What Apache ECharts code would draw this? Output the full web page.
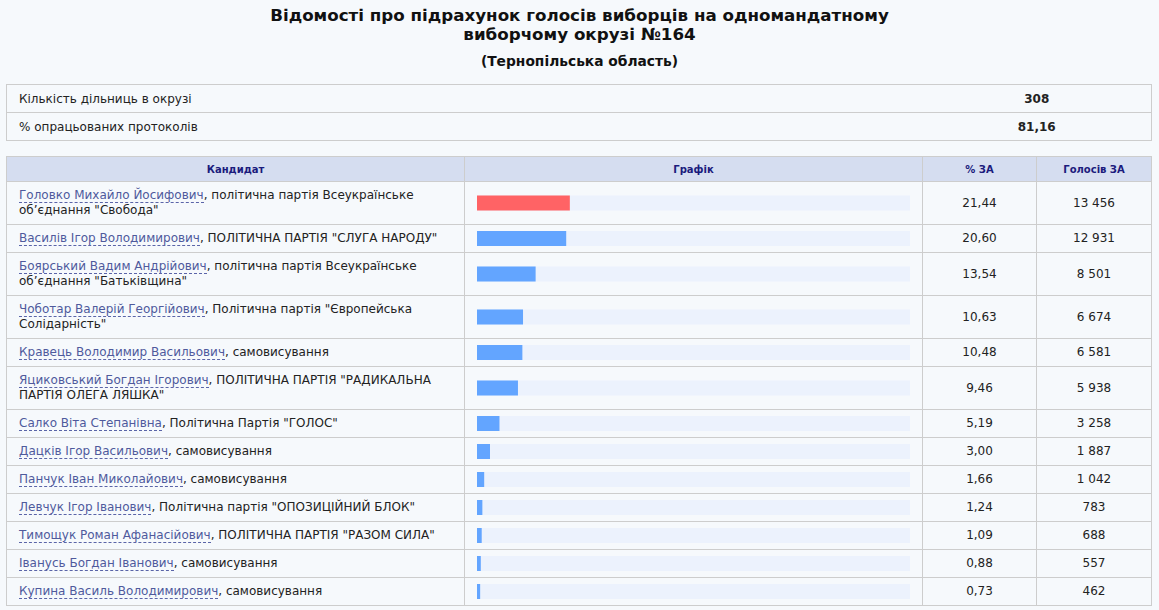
<!DOCTYPE html>
<html lang="uk">
<head>
<meta charset="utf-8">
<script src="https://cdn.jsdelivr.net/npm/echarts@6/dist/echarts.min.js"></script>
<style>
  html,body{margin:0;padding:0;background:#f6f9fc;}
  #wrap{position:relative;width:1159px;height:610px;overflow:hidden;font-family:"DejaVu Sans",Verdana,sans-serif;color:#222;}
  .t1{text-align:center;font-weight:bold;font-size:16.7px;line-height:19px;padding-top:6px;margin:0;color:#111;}
  .t2{text-align:center;font-weight:bold;font-size:13.8px;line-height:18px;margin:8px 0 0 0;color:#111;}
  table{border-collapse:collapse;table-layout:fixed;position:absolute;left:6px;width:1145px;}
  td,th{font-size:12px;}
  #info{top:84px;border:1px solid #cdcdcd;}
  #info td{height:27px;padding:0 12px 0 12px;border-top:1px solid #cdcdcd;border-bottom:1px solid #cdcdcd;}
  #info td.v{text-align:center;font-weight:bold;padding:0;}
  #main{top:156px;border:1px solid #cdcdcd;}
  #main th{background:#d5ddf0;color:#1b1b7d;font-size:10px;font-weight:bold;height:24px;padding:0;border:1px solid #cdcdcd;}
  #main td{border:1px solid #cdcdcd;padding:6px 12px 6px 12px;line-height:15px;vertical-align:middle;}
  #main td.n{text-align:center;padding:0;}
  .nm{color:#4f5a9c;border-bottom:1px dashed #5a64a8;}
  #chart{position:absolute;left:0;top:0;width:1159px;height:610px;pointer-events:none;}
</style>
</head>
<body>
<div id="wrap">
  <div class="t1" id="title"></div>
  <div class="t2" id="subtitle"></div>
  <table id="info"><colgroup><col style="width:916px"><col style="width:229px"></colgroup><tbody id="infoBody"></tbody></table>
  <table id="main">
    <colgroup><col style="width:458px"><col style="width:458px"><col style="width:114px"><col style="width:115px"></colgroup>
    <thead><tr id="headRow"></tr></thead>
    <tbody id="mainBody"></tbody>
  </table>
  <div id="chart"></div>
</div>
<script>
const titleLines = ["Відомості про підрахунок голосів виборців на одномандатному", "виборчому окрузі №164"];
const subtitleText = "(Тернопільська область)";
const infoLabels = ["Кількість дільниць в окрузі", "% опрацьованих протоколів"];
const infoValues = ["308", "81,16"];
const headers = ["Кандидат", "Графік", "% ЗА", "Голосів ЗА"];
const candidates = [
  "Головко Михайло Йосифович",
  "Василів Ігор Володимирович",
  "Боярський Вадим Андрійович",
  "Чоботар Валерій Георгійович",
  "Кравець Володимир Васильович",
  "Яциковський Богдан Ігорович",
  "Салко Віта Степанівна",
  "Дацків Ігор Васильович",
  "Панчук Іван Миколайович",
  "Левчук Ігор Іванович",
  "Тимощук Роман Афанасійович",
  "Іванусь Богдан Іванович",
  "Купина Василь Володимирович"
];
const parties = [
  "політична партія Всеукраїнське об’єднання \"Свобода\"",
  "ПОЛІТИЧНА ПАРТІЯ \"СЛУГА НАРОДУ\"",
  "політична партія Всеукраїнське об’єднання \"Батьківщина\"",
  "Політична партія \"Європейська Солідарність\"",
  "самовисування",
  "ПОЛІТИЧНА ПАРТІЯ \"РАДИКАЛЬНА ПАРТІЯ ОЛЕГА ЛЯШКА\"",
  "Політична Партія \"ГОЛОС\"",
  "самовисування",
  "самовисування",
  "Політична партія \"ОПОЗИЦІЙНИЙ БЛОК\"",
  "ПОЛІТИЧНА ПАРТІЯ \"РАЗОМ СИЛА\"",
  "самовисування",
  "самовисування"
];
const percents = [21.44, 20.60, 13.54, 10.63, 10.48, 9.46, 5.19, 3.00, 1.66, 1.24, 1.09, 0.88, 0.73];
const votes = [13456, 12931, 8501, 6674, 6581, 5938, 3258, 1887, 1042, 783, 688, 557, 462];

const fmtPct = v => v.toFixed(2).replace('.', ',');
const fmtVotes = v => String(v).replace(/\B(?=(\d{3})+(?!\d))/g, ' ');
const esc = s => s.replace(/&/g,'&amp;').replace(/</g,'&lt;').replace(/>/g,'&gt;');

document.getElementById('title').innerHTML = titleLines.map(esc).join('<br>');
document.getElementById('subtitle').textContent = subtitleText;
document.getElementById('infoBody').innerHTML = infoLabels.map((l, i) =>
  `<tr><td>${esc(l)}</td><td class="v">${esc(infoValues[i])}</td></tr>`).join('');
document.getElementById('headRow').innerHTML = headers.map(h => `<th>${esc(h)}</th>`).join('');
document.getElementById('mainBody').innerHTML = candidates.map((c, i) =>
  `<tr><td><span class="nm">${esc(c)}</span>, ${esc(parties[i])}</td><td class="g"></td>` +
  `<td class="n">${fmtPct(percents[i])}</td><td class="n">${fmtVotes(votes[i])}</td></tr>`).join('');

const wrapRect = document.getElementById('wrap').getBoundingClientRect();
const cells = Array.from(document.querySelectorAll('#mainBody td.g'));
const leader = percents.indexOf(Math.max(...percents));
const barH = 15, padX = 12.5;

const grids = [], xAxes = [], yAxes = [], series = [];
cells.forEach((cell, i) => {
  const r = cell.getBoundingClientRect();
  const cy = (r.top + r.bottom) / 2 - wrapRect.top;
  grids.push({ left: r.left - wrapRect.left + padX, width: r.width - 2 * padX, top: cy - barH / 2, height: barH, containLabel: false });
  xAxes.push({ type: 'value', gridIndex: i, min: 0, max: 100, show: false });
  yAxes.push({ type: 'category', gridIndex: i, data: [candidates[i]], show: false });
  series.push({
    type: 'bar', xAxisIndex: i, yAxisIndex: i, name: candidates[i],
    data: [percents[i]], barWidth: '100%',
    showBackground: true, backgroundStyle: { color: '#ecf2fd' },
    itemStyle: { color: i === leader ? '#ff6365' : '#63a5ff' },
    silent: true, animation: false
  });
});

const chart = echarts.init(document.getElementById('chart'), null, { renderer: 'canvas' });
chart.setOption({ animation: false, grid: grids, xAxis: xAxes, yAxis: yAxes, series: series });
</script>
</body>
</html>
